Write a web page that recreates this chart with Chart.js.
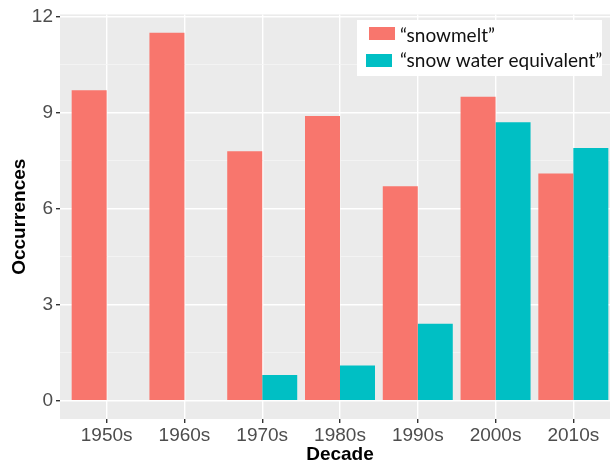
<!DOCTYPE html>
<html>
<head>
<meta charset="utf-8">
<script src="https://cdn.jsdelivr.net/npm/chart.js@4/dist/chart.umd.min.js"></script>
<style>
  html, body { margin: 0; padding: 0; background: #fff; overflow: hidden; }
  #c { display: block; }
</style>
</head>
<body>
<canvas id="c" width="630" height="465" style="width:630px;height:465px"></canvas>
<script>
// data
const decades = ['1950s', '1960s', '1970s', '1980s', '1990s', '2000s', '2010s'];
const snowmelt = [9.7, 11.5, 7.8, 8.9, 6.7, 9.5, 7.1];
const swe = [0, 0, 0.8, 1.1, 2.4, 8.7, 7.9];
const yTicks = [0, 3, 6, 9, 12];
const seriesNames = ['\u201csnowmelt\u201d', '\u201csnow water equivalent\u201d'];

const FONT = '"Liberation Sans", Arial, sans-serif';

// major + minor y breaks (ggplot style)
const yBreaks = [];
yTicks.forEach((t, i) => {
  yBreaks.push({ value: t, major: true });
  if (i < yTicks.length - 1) yBreaks.push({ value: (t + yTicks[i + 1]) / 2, major: false });
});

// grey panel behind the plot
const panelBg = {
  id: 'panelBg',
  beforeDraw(chart) {
    const a = chart.chartArea, ctx = chart.ctx;
    ctx.save();
    ctx.fillStyle = '#EBEBEB';
    ctx.fillRect(a.left, a.top, a.right - a.left, a.bottom - a.top);
    ctx.restore();
  }
};

// legend box sitting inside the panel (top right)
const boxLegend = {
  id: 'boxLegend',
  afterDraw(chart) {
    const ctx = chart.ctx;
    ctx.save();
    ctx.fillStyle = '#fff';
    ctx.fillRect(357, 20, 245, 56);
    const rows = [
      { sx: 369, sy: 27, ty: 36 },
      { sx: 366, sy: 54, ty: 61 }
    ];
    chart.data.datasets.forEach((ds, i) => {
      const r = rows[i];
      ctx.fillStyle = ds.backgroundColor;
      ctx.fillRect(r.sx, r.sy, 26, 13);
      ctx.fillStyle = '#111';
      ctx.font = '19px Lato, "Open Sans", sans-serif';
      ctx.textBaseline = 'middle';
      ctx.textAlign = 'left';
      ctx.fillText(ds.label, 400, r.ty);
    });
    ctx.restore();
  }
};

new Chart(document.getElementById('c'), {
  type: 'bar',
  data: {
    datasets: [
      { label: seriesNames[0], data: snowmelt.map((v, i) => ({ x: i + 1, y: v })), backgroundColor: '#F8766D' },
      { label: seriesNames[1], data: swe.map((v, i) => ({ x: i + 1, y: v })), backgroundColor: '#00BFC4' }
    ]
  },
  options: {
    responsive: false,
    animation: false,
    layout: { padding: { top: 11, right: 10, left: 0, bottom: 0 } },
    categoryPercentage: 0.9,
    barPercentage: 1.0,
    plugins: { legend: { display: false }, tooltip: { enabled: false } },
    scales: {
      x: {
        type: 'linear',
        min: 0.4,
        max: 7.6,
        offset: false,
        afterBuildTicks: s => { s.ticks = decades.map((d, i) => ({ value: i + 1 })); },
        afterFit: s => { s.height = 46; },
        ticks: {
          autoSkip: false,
          maxRotation: 0,
          padding: 1,
          color: '#4D4D4D',
          font: { family: FONT, size: 19 },
          callback: (v, i) => decades[i]
        },
        grid: { offset: false, color: '#FFFFFF', lineWidth: 1.4, tickColor: '#333333', tickLength: 4 },
        border: { display: false },
        title: {
          display: true, text: 'Decade', color: '#000',
          font: { family: FONT, size: 19, weight: 'bold', lineHeight: 1 },
          padding: { top: 0, bottom: 1 }
        }
      },
      y: {
        min: -0.575,
        max: 12.075,
        afterBuildTicks: s => { s.ticks = yBreaks.map(b => ({ value: b.value })); },
        afterFit: s => { s.width = 60; },
        ticks: {
          padding: 3,
          color: '#4D4D4D',
          font: { family: FONT, size: 19 },
          callback: (v, i) => yBreaks[i].major ? String(v) : ''
        },
        grid: {
          color: c => yBreaks[c.index] && yBreaks[c.index].major ? '#FFFFFF' : '#F5F5F5',
          lineWidth: c => yBreaks[c.index] && yBreaks[c.index].major ? 1.4 : 0.8,
          tickColor: c => yBreaks[c.index] && yBreaks[c.index].major ? '#333333' : 'rgba(0,0,0,0)',
          tickLength: 4
        },
        border: { display: false },
        title: {
          display: true, text: 'Occurrences', color: '#000',
          font: { family: FONT, size: 19, weight: 'bold', lineHeight: 1 },
          padding: { top: 10, bottom: 0 }
        }
      }
    }
  },
  plugins: [panelBg, boxLegend]
});
</script>
</body>
</html>
